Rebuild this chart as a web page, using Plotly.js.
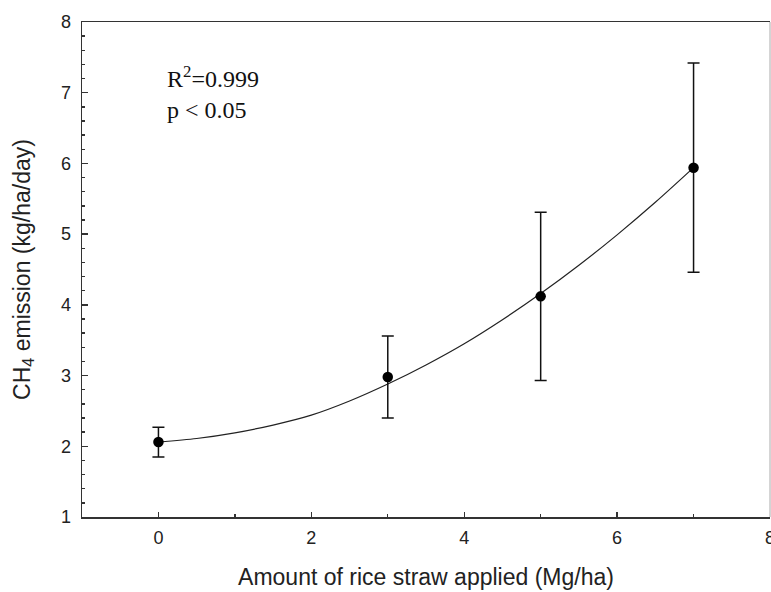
<!DOCTYPE html>
<html>
<head>
<meta charset="utf-8">
<script src="https://cdn.plot.ly/plotly-3.0.1.min.js"></script>
<style>html,body{margin:0;padding:0;background:#fff;}#chart{width:771px;height:592px;}</style>
</head>
<body>
<div id="chart"></div>
<script>
// Measured points (mean ± error)
var strawAmount = [0, 3, 5, 7];
var ch4Mean = [2.06, 2.98, 4.12, 5.94];
var ch4Err = [0.21, 0.58, 1.19, 1.48];

// Fitted curve
var fitX = [0, 0.5, 1, 1.5, 2, 2.5, 3, 3.5, 4, 4.5, 5, 5.5, 6, 6.5, 7];
var fitY = [2.06, 2.11, 2.19, 2.30, 2.44, 2.64, 2.88, 3.15, 3.45, 3.79, 4.16, 4.56, 4.99, 5.45, 5.94];

// Tick labels
var xTicks = [0, 2, 4, 6, 8];
var yTicks = [1, 2, 3, 4, 5, 6, 7, 8];

var traces = [
  {
    x: fitX, y: fitY, type: 'scatter', mode: 'lines',
    line: {color: '#222', width: 1.2, shape: 'spline', smoothing: 0.8},
    hoverinfo: 'skip', showlegend: false
  },
  {
    x: strawAmount, y: ch4Mean, type: 'scatter', mode: 'markers',
    marker: {color: '#000', size: 10.5},
    error_y: {type: 'data', array: ch4Err, visible: true, color: '#111', thickness: 1.5, width: 6},
    showlegend: false
  }
];

var sans = 'Liberation Sans, Arial, sans-serif';
var tickFont = {family: sans, size: 18, color: '#222'};

var layout = {
  width: 771, height: 592,
  margin: {l: 82, r: 1, t: 22, b: 75},
  paper_bgcolor: '#fff', plot_bgcolor: '#fff',
  xaxis: {
    range: [-1, 8], tickvals: xTicks, ticktext: xTicks.map(String),
    ticks: 'inside', ticklen: 5, tickwidth: 1.3, tickcolor: '#333',
    minor: {dtick: 1, tick0: 1, ticks: 'inside', ticklen: 3, tickwidth: 1.3, tickcolor: '#333', showgrid: false},
    showline: true, linecolor: '#333', linewidth: 1.5, mirror: true,
    showgrid: false, zeroline: false,
    tickfont: tickFont, ticklabeloverflow: 'allow', ticklabelstandoff: 4,
    automargin: false,
    title: {text: 'Amount of rice straw applied (Mg/ha)', font: {family: sans, size: 23, color: '#222'}, standoff: 22}
  },
  yaxis: {
    range: [1, 8], tickvals: yTicks, ticktext: yTicks.map(String),
    ticks: 'inside', ticklen: 6, tickwidth: 1.3, tickcolor: '#333',
    minor: {dtick: 0.2, ticks: 'inside', ticklen: 3, tickwidth: 1.3, tickcolor: '#333', showgrid: false},
    showline: true, linecolor: '#333', linewidth: 1.5, mirror: false,
    showgrid: false, zeroline: false,
    tickfont: tickFont, ticklabelstandoff: 6, ticklabeloverflow: 'allow',
    automargin: false,
    title: {text: 'CH<sub>4</sub> emission (kg/ha/day)', font: {family: sans, size: 23, color: '#222'}, standoff: 24}
  },
  shapes: [
    {type: 'line', xref: 'paper', yref: 'paper', x0: 1, x1: 1, y0: 0, y1: 1, line: {color: '#aaa', width: 1}}
  ],
  annotations: [
    {xref: 'x', yref: 'y', x: 0.08, y: 7.22, xanchor: 'left', yanchor: 'middle', showarrow: false,
     text: 'R<sup>2</sup>=0.999', font: {family: 'Liberation Serif, Times New Roman, serif', size: 24, color: '#111'}},
    {xref: 'x', yref: 'y', x: 0.08, y: 6.76, xanchor: 'left', yanchor: 'middle', showarrow: false,
     text: 'p &lt; 0.05', font: {family: 'Liberation Serif, Times New Roman, serif', size: 24, color: '#111'}}
  ]
};

Plotly.newPlot('chart', traces, layout, {displayModeBar: false, staticPlot: true});
</script>
</body>
</html>
